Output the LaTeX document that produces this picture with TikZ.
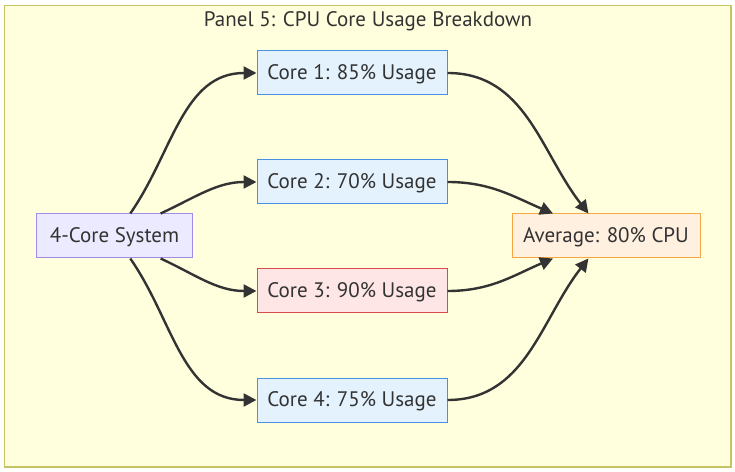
\documentclass[tikz,border=0pt]{standalone}
\usepackage{fontspec}
\setmainfont{PT Sans}
\usetikzlibrary{arrows.meta}
\definecolor{panelfill}{HTML}{FFFFDE}
\definecolor{panelline}{HTML}{C4C460}
\definecolor{textgray}{HTML}{333333}
\definecolor{corefill}{HTML}{E3F2FD}
\definecolor{coreline}{HTML}{4A90E2}
\definecolor{hotfill}{HTML}{FFE6E6}
\definecolor{hotline}{HTML}{D94A4A}
\definecolor{sysfill}{HTML}{ECEAFF}
\definecolor{sysline}{HTML}{A08CEB}
\definecolor{avgfill}{HTML}{FFF0E0}
\definecolor{avgline}{HTML}{F5A742}

\begin{document}
\begin{tikzpicture}[x=1pt, y=1pt,
    label font/.style={font=\fontsize{21}{24}\selectfont, text=textgray},
    core/.style={draw=coreline, fill=corefill, line width=1pt, label font,
        minimum width=190pt, minimum height=44pt, text depth=2pt},
    hot/.style={core, draw=hotline, fill=hotfill},
    sysbox/.style={core, draw=sysline, fill=sysfill, minimum width=156pt},
    avgbox/.style={core, draw=avgline, fill=avgfill, minimum width=188pt},
    link/.style={-{Triangle[length=13pt, width=13pt]}, line width=2.4pt, draw=textgray}]
    \useasboundingbox (0,0) rectangle (735,471);
    \draw [draw=panelline, fill=panelfill, line width=1.5pt] (4.5,4) rectangle (731,465.5);
    \node [label font] (title) at (368,450) {Panel 5: CPU Core Usage Breakdown};
    \node [sysbox] (sys) at (114.5,235) {4-Core System};
    \node [core] (core1) at (352,398) {Core 1: 85\% Usage};
    \node [core] (core2) at (352,289) {Core 2: 70\% Usage};
    \node [hot]  (core3) at (352,180) {Core 3: 90\% Usage};
    \node [core] (core4) at (352,71) {Core 4: 75\% Usage};
    \node [avgbox] (avg) at (606,235) {Average: 80\% CPU};
    \draw [link] (sys.55) to[out=55, in=180] (core1.west);
    \draw [link] (sys.26) to[out=25, in=180] (core2.west);
    \draw [link] (sys.-26) to[out=-25, in=180] (core3.west);
    \draw [link] (sys.-55) to[out=-55, in=180] (core4.west);
    \draw [link] (core1.east) to[out=0, in=128] (avg.128);
    \draw [link] (core2.east) to[out=0, in=157] (avg.157);
    \draw [link] (core3.east) to[out=0, in=-157] (avg.-157);
    \draw [link] (core4.east) to[out=0, in=-128] (avg.-128);
\end{tikzpicture}
\end{document}
